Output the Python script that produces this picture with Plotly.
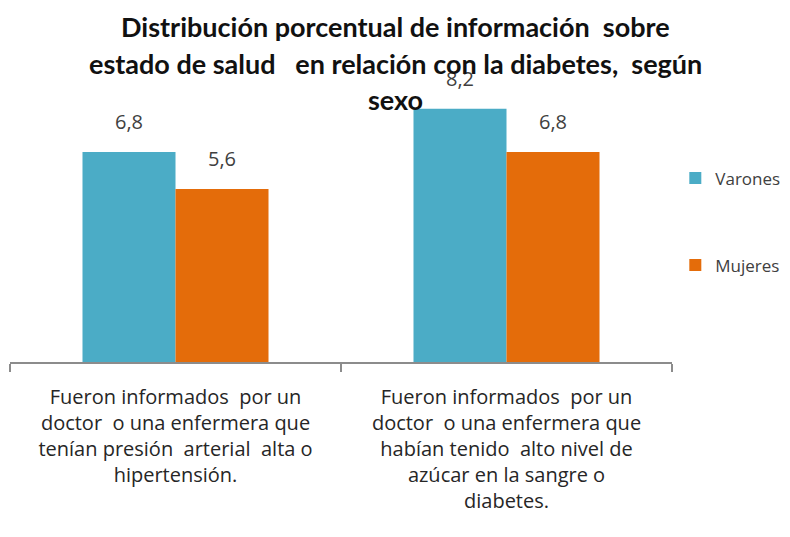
import plotly.graph_objects as go

# =====================================================================
# DATA
# =====================================================================
categories = [
    "Fueron informados  por un<br>doctor  o una enfermera que<br>tenían presión  arterial  alta o<br>hipertensión.",
    "Fueron informados  por un<br>doctor  o una enfermera que<br>habían tenido  alto nivel de<br>azúcar en la sangre o<br>diabetes.",
]
series_names = ["Varones", "Mujeres"]
varones = [6.8, 8.2]
mujeres = [5.6, 6.8]
title_lines = [
    "Distribución porcentual de información  sobre",
    "estado de salud   en relación con la diabetes,  según",
    "sexo",
]

colors = {"Varones": "#4BACC6", "Mujeres": "#E46C0A"}
body_font = "Open Sans, Liberation Sans, sans-serif"
title_font = "Lato, Open Sans, sans-serif"

# figure size and plot area (the page body adds an 8px margin around the div)
W, H = 790, 537
PAGE = 8
M_L, M_R, M_T, M_B = 10 - PAGE, 118 + PAGE, 84 - PAGE, 175 + PAGE
plot_h = H - M_T - M_B
plot_bottom = H - M_B

fig = go.Figure()
for name, vals in zip(series_names, [varones, mujeres]):
    fig.add_trace(go.Bar(
        x=categories, y=vals, name=name,
        marker=dict(color=colors[name], line=dict(width=0)),
        legendgroup=name,
    ))

# value labels above bars
annotations = []
for shift, vals in zip([-46.5, 46.5], [varones, mujeres]):
    for cat, v in zip(categories, vals):
        annotations.append(dict(
            x=cat, y=v, xref="x", yref="y",
            text=f"{v:.1f}".replace(".", ","),
            showarrow=False, xshift=shift, yanchor="bottom", yshift=15,
            font=dict(family=body_font, size=20, color="#404040"),
        ))

# title, one annotation per line so the spacing can follow the reference
plot_cx = M_L + (W - M_L - M_R) / 2
for i, line in enumerate(title_lines):
    px = 27 + i * 36 - PAGE
    annotations.append(dict(
        x=0.5, xref="paper", xanchor="center",
        y=(plot_bottom - px) / plot_h, yref="paper", yanchor="middle",
        xshift=(W / 2 - PAGE) - plot_cx,
        text=f"<b>{line}</b>", showarrow=False,
        font=dict(family=title_font, size=27, color="#111111"),
    ))

fig.update_layout(
    width=W, height=H,
    margin=dict(l=M_L, r=M_R, t=M_T, b=M_B, autoexpand=False),
    paper_bgcolor="white", plot_bgcolor="white",
    barmode="group", bargap=0.438, bargroupgap=0,
    showlegend=True,
    legend=dict(
        x=1.005, xanchor="left", y=0.725, yanchor="top",
        traceorder="grouped", tracegroupgap=62,
        font=dict(family=body_font, size=17, color="#404040"),
        itemwidth=30,
    ),
    annotations=annotations,
)
fig.update_xaxes(
    showline=True, linecolor="#8c8c8c", linewidth=2,
    ticks="outside", tickson="boundaries", ticklen=8, tickcolor="#8c8c8c", tickwidth=2,
    tickfont=dict(family=body_font, size=20, color="#262626"),
    ticklabelstandoff=16,
    showgrid=False, automargin=False,
)
fig.update_yaxes(range=[0, 9], visible=False, showgrid=False)

fig.write_html("out.html")
